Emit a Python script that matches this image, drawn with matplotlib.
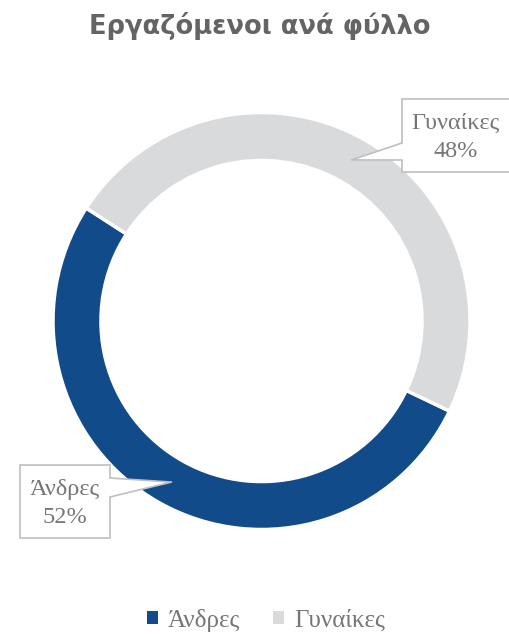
import matplotlib
matplotlib.use("Agg")
from matplotlib import pyplot as plt
from matplotlib.patches import Rectangle, Polygon
import numpy as np

# data
labels = ["Άνδρες", "Γυναίκες"]
shares = [52, 48]
colors = ["#124B89", "#D9DADC"]
title = "Εργαζόμενοι ανά φύλλο"

W, H = 509, 634
fig = plt.figure(figsize=(W / 100, H / 100), dpi=100)

# donut axes, centre at (261.5, 321) px, radius 208.5 px
cx, cy, R = 261.5, 321, 208.5
ax = fig.add_axes([(cx - R) / W, 1 - (cy + R) / H, 2 * R / W, 2 * R / H])
wedges, _ = ax.pie(shares, colors=colors, startangle=147.2, counterclock=True,
                   wedgeprops=dict(width=0.23, edgecolor="white", linewidth=2.5))
ax.set_xlim(-1, 1)
ax.set_ylim(-1, 1)
ax.set_aspect("equal")

# overlay in pixel coords for the callouts
ov = fig.add_axes([0, 0, 1, 1], zorder=5)
ov.set_xlim(0, W)
ov.set_ylim(H, 0)
ov.axis("off")

txt_color = "#767676"
edge_color = "#BFBFBF"
serif = ["Liberation Serif", "DejaVu Serif"]

def tip_of(w, r=0.885):
    th = np.deg2rad((w.theta1 + w.theta2) / 2)
    p = ax.transData.transform((r * np.cos(th), r * np.sin(th)))
    return ov.transData.inverted().transform(p)

# box: x0, y0, x1, y1, side the pointer leaves from, base y range
boxes = [
    (20, 465, 110, 538, "right", 478, 497),
    (402, 99, 512, 172, "left", 143, 160),
]

for w, lab, val, b in zip(wedges, labels, shares, boxes):
    x0, y0, x1, y1, side, by1, by2 = b
    ov.add_patch(Rectangle((x0, y0), x1 - x0, y1 - y0, facecolor="white",
                           edgecolor=edge_color, linewidth=1.2, zorder=2))
    tx, ty = tip_of(w)
    ex = x1 if side == "right" else x0
    inward = -2 if side == "right" else 2
    ov.add_patch(Polygon([(ex + inward, by1), (ex, by1), (tx, ty), (ex, by2), (ex + inward, by2)],
                         closed=True, facecolor="white", edgecolor="none", zorder=3))
    ov.plot([ex, tx, ex], [by1, ty, by2], color=edge_color, linewidth=1.2, zorder=4)
    xc = (x0 + min(x1, W)) / 2
    ov.text(xc, (y0 + y1) / 2 + 2, lab + "\n" + str(val) + "%", ha="center", va="center",
            fontsize=17.5, color=txt_color, family=serif, linespacing=1.45, zorder=5)

fig.text(0.51, 1 - 26 / H, title, ha="center", va="center", fontsize=18.5,
         fontweight="bold", color="#646464", family=["DejaVu Sans"])

leg = fig.legend(wedges, labels, loc="center", bbox_to_anchor=(266 / W, 1 - 620 / H), ncol=2,
                 frameon=False, handlelength=0.45, handleheight=0.45, handletextpad=0.4,
                 columnspacing=1.3, prop=dict(family=serif, size=18))
for t in leg.get_texts():
    t.set_color(txt_color)
for hnd in leg.legend_handles:
    hnd.set_edgecolor("none")

fig.savefig("out.png", dpi=100)
